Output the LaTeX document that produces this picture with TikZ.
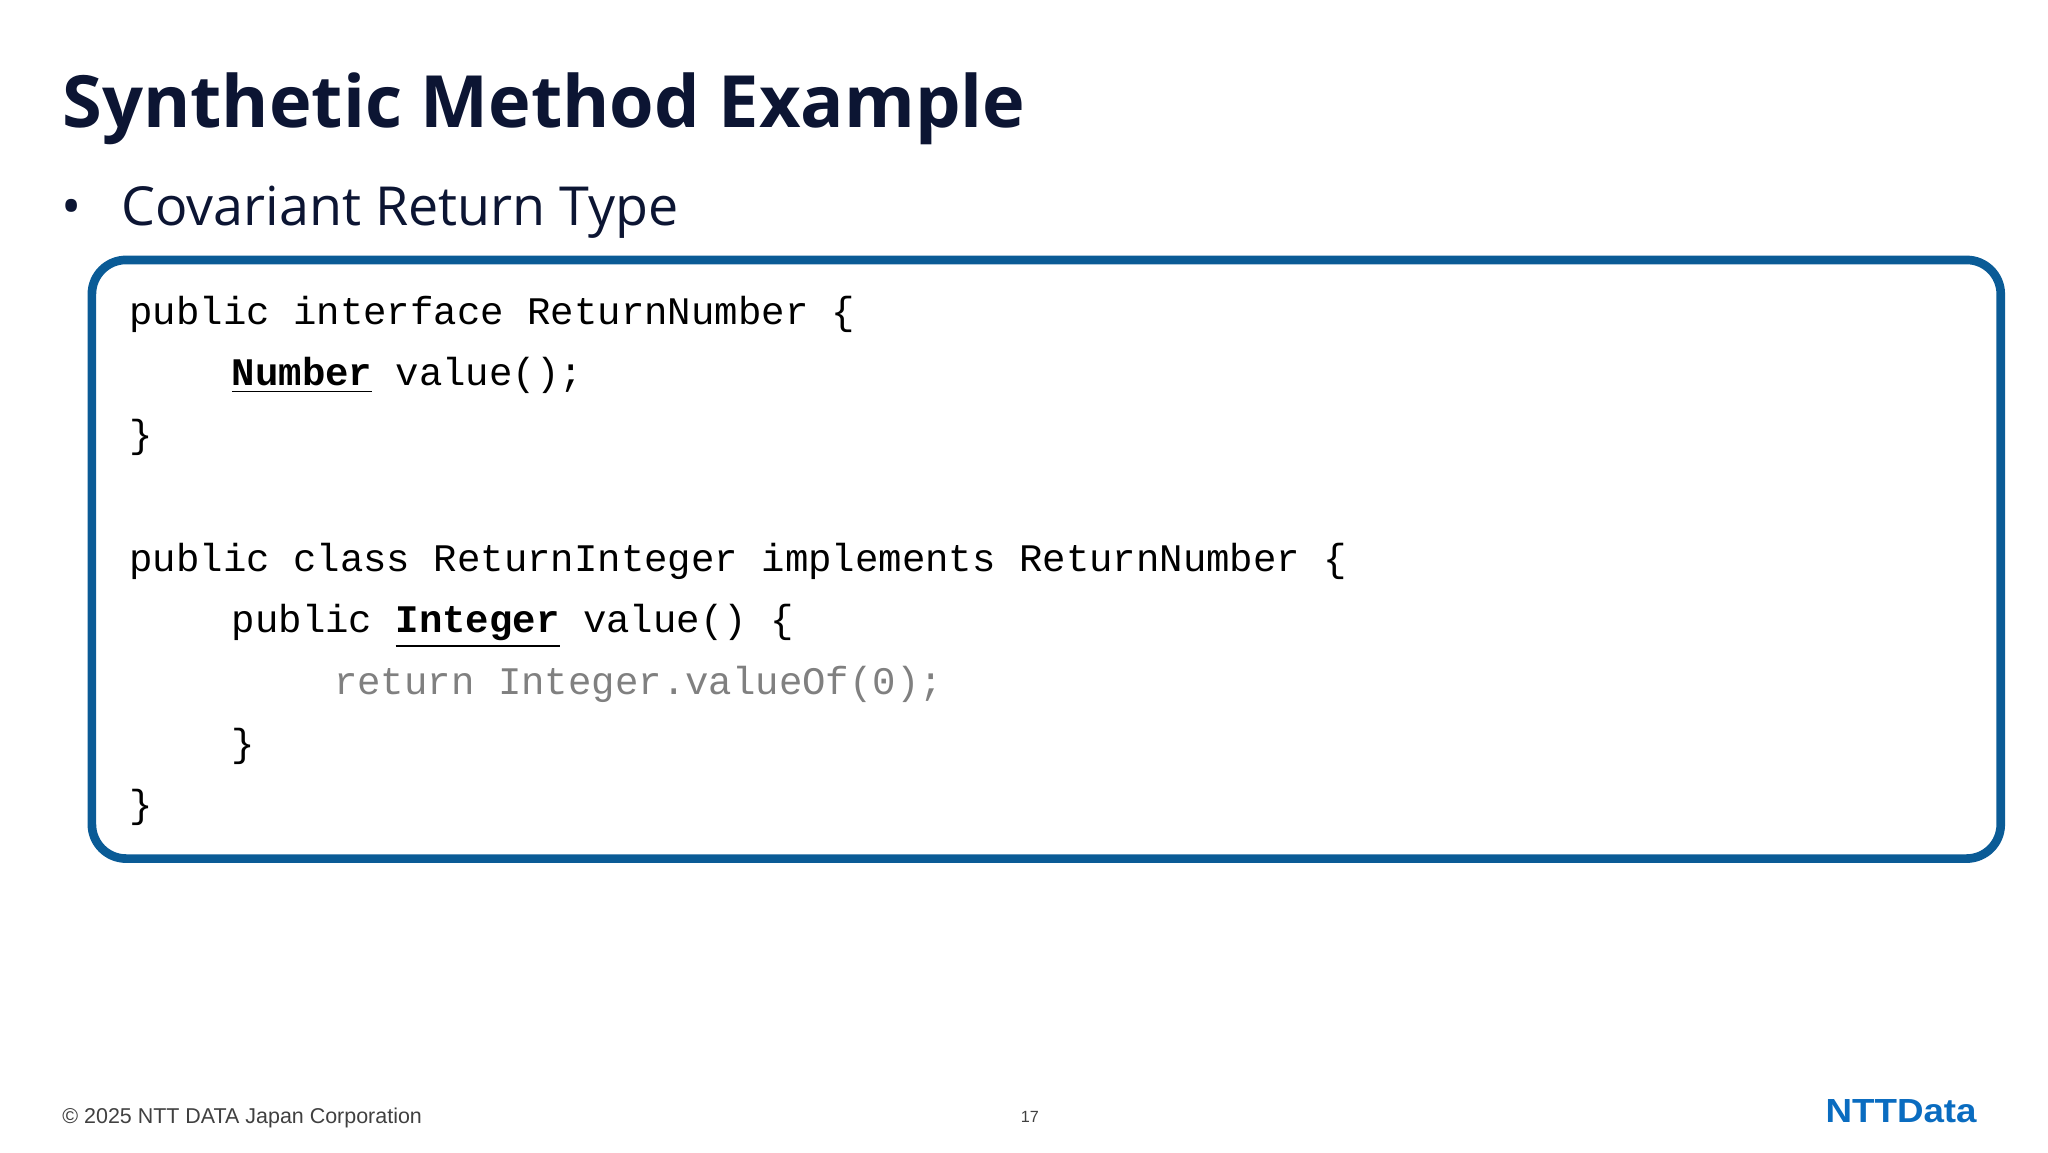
\documentclass[tikz,border=0pt]{standalone}
\usepackage{fontspec}
\setmainfont{Open Sans}
\newfontfamily\codefont{Liberation Mono}
\newfontfamily\footfont{Liberation Sans}
\definecolor{navy}{HTML}{0C1533}
\definecolor{boxblue}{HTML}{0A5B96}
\definecolor{logoblue}{HTML}{0A6CC0}
\definecolor{codegray}{HTML}{808080}
\begin{document}
\begin{tikzpicture}[x=0.013128cm,y=-0.013128cm,
  txt/.style={anchor=base west,inner sep=0pt},
  code/.style={txt,font=\codefont\fontsize{11.1}{13}\selectfont},
  foot/.style={txt,font=\footfont\fontsize{6.1}{8}\selectfont,text=black!75}]
\useasboundingbox (0,0) rectangle (1560,878);
\node[txt,font=\bfseries\fontsize{20.5}{26}\selectfont,text=navy] (title) at (47,97) {Synthetic Method Example};
\node[txt,font=\fontsize{15.3}{20}\selectfont,text=navy] (bul) at (46,172) {•};
\node[txt,font=\fontsize{15.3}{20}\selectfont,text=navy] (sub) at (92,172) {Covariant Return Type};
\draw[boxblue,line width=6.6*0.013128cm,rounded corners=26*0.013128cm] (70,198) rectangle (1524,654);
\node[code] (l1) at (98,247) {public interface ReturnNumber \{};
\node[code] (l2) at (176,294) {\underline{\bfseries Number} value();};
\node[code] (l3) at (98,341) {\}};
\node[code] (l4) at (98,435) {public class ReturnInteger implements ReturnNumber \{};
\node[code] (l5) at (176,482) {public \underline{\bfseries Integer} value() \{};
\node[code,text=codegray] (l6) at (254,529) {return Integer.valueOf(0);};
\node[code] (l7) at (176,576) {\}};
\node[code] (l8) at (98,623) {\}};
\node[foot] (copy) at (47,856) {© 2025 NTT DATA Japan Corporation};
\node[foot,font=\footfont\fontsize{4.6}{6}\selectfont] (pg) at (777,855) {17};
\node[txt,font=\footfont\bfseries\fontsize{9.5}{11}\selectfont,text=logoblue,xscale=1.1] (logo) at (1390,855) {NTTData};
\end{tikzpicture}
\end{document}
